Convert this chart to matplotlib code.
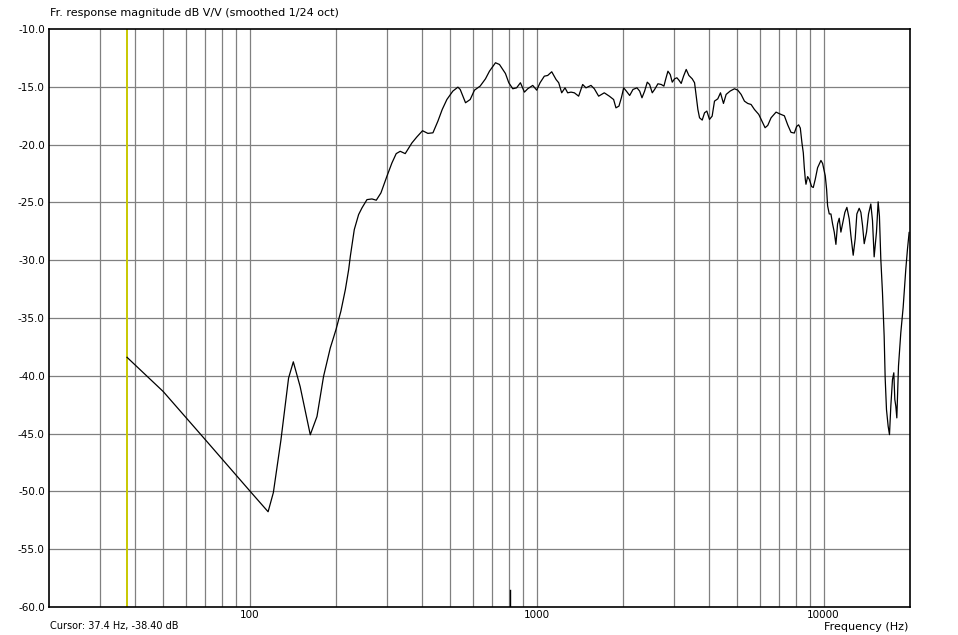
import numpy as np
import matplotlib
matplotlib.use('Agg')
import matplotlib.pyplot as plt
from matplotlib.ticker import FixedLocator, NullFormatter, NullLocator

# risposta in frequenza (Hz, dB V/V)
freq_hz = [37.4, 50.0, 70.1, 100.5, 116, 121, 128.5, 136.7, 142, 150, 162.7, 171.7, 181, 191,
           200, 208, 215.6, 221.4, 224.4, 231.6, 239.8, 246.3, 256.4, 266.8, 276.3, 286.8,
           300.9, 313.2, 324.2, 334.8, 348.5, 367.6, 382.5, 400.4, 418, 435.3, 453, 469,
           486.8, 510.8, 531.8, 541.8, 565.4, 586.9, 607.5, 635.7, 663.5, 685.1, 719, 742.4,
           778.8, 800, 826, 851.6, 878.3, 907, 931.2, 969.4, 1001, 1028, 1064, 1093, 1129,
           1169, 1194, 1223, 1256, 1283, 1318, 1354, 1401, 1447, 1486, 1547, 1589, 1645,
           1721, 1792, 1855, 1890, 1936, 1974, 2011, 2054, 2110, 2167, 2237, 2286, 2329,
           2379, 2430, 2476, 2529, 2577, 2647, 2719, 2777, 2815, 2868, 2922, 2969, 3025,
           3082, 3131, 3190, 3251, 3321, 3393, 3485, 3551, 3598, 3647, 3696, 3776, 3847,
           3919, 4003, 4089, 4167, 4279, 4372, 4478, 4575, 4724, 4891, 5023, 5159, 5299,
           5442, 5589, 5741, 5944, 6137, 6253, 6388, 6561, 6829, 7015, 7300, 7497, 7699,
           7906, 8055, 8185, 8295, 8406, 8497, 8565, 8634, 8681, 8797, 8915, 9084, 9204,
           9352, 9529, 9788, 9920, 10134, 10243, 10325, 10464, 10605, 10747, 10892, 11038,
           11186, 11335, 11488, 11642, 11861, 12054, 12281, 12446, 12680, 12884, 13057,
           13304, 13486, 13667, 13852, 14112, 14339, 14605, 14802, 15001, 15283, 15489,
           15650, 15824, 16037, 16255, 16386, 16561, 16784, 16965, 17147, 17378, 17564,
           17706, 17850, 17994, 18236, 18578, 18929, 19338, 19598, 19861]
level_db = [-38.40, -41.36, -45.53, -50.0, -51.76, -50.1, -45.6, -40.2, -38.79, -40.93, -45.1,
            -43.52, -40.05, -37.6, -36.0, -34.41, -32.54, -30.81, -29.65, -27.35, -26.05,
            -25.48, -24.76, -24.70, -24.81, -24.18, -22.74, -21.59, -20.78, -20.58, -20.78,
            -19.86, -19.34, -18.8, -19.03, -18.98, -17.97, -16.96, -16.10, -15.37, -15.03,
            -15.23, -16.38, -16.10, -15.29, -14.94, -14.31, -13.65, -12.92, -13.07, -13.85,
            -14.65, -15.17, -15.09, -14.65, -15.46, -15.17, -14.88, -15.29, -14.65, -14.08,
            -14.02, -13.70, -14.37, -14.65, -15.52, -15.09, -15.52, -15.46, -15.52, -15.81,
            -14.80, -15.09, -14.88, -15.17, -15.81, -15.52, -15.81, -16.10, -16.82, -16.67,
            -15.95, -15.09, -15.37, -15.75, -15.23, -15.09, -15.37, -15.95, -15.37, -14.60,
            -14.80, -15.52, -15.23, -14.74, -14.80, -14.94, -14.37, -13.65, -13.94, -14.60,
            -14.31, -14.22, -14.42, -14.71, -14.08, -13.50, -14.02, -14.31, -14.65, -15.81,
            -16.96, -17.68, -17.88, -17.25, -17.10, -17.82, -17.54, -16.24, -16.04, -15.52,
            -16.44, -15.66, -15.37, -15.17, -15.29, -15.66, -16.24, -16.44, -16.53, -16.96,
            -17.39, -18.11, -18.54, -18.34, -17.68, -17.19, -17.33, -17.51, -18.29, -18.94,
            -19.0, -18.43, -18.29, -18.57, -19.86, -20.71, -22.0, -23.0, -23.43, -22.77,
            -23.0, -23.63, -23.71, -23.0, -22.0, -21.37, -21.63, -22.71, -23.86, -25.29,
            -26.0, -26.0, -26.86, -27.57, -28.63, -26.86, -26.37, -27.57, -26.86, -25.86,
            -25.43, -26.43, -27.86, -29.57, -28.14, -26.0, -25.51, -25.86, -27.0, -28.57,
            -27.57, -26.0, -25.14, -26.57, -29.71, -27.57, -24.95, -26.2, -29.9, -32.80,
            -36.56, -40.17, -42.92, -44.36, -45.09, -42.63, -40.32, -39.74, -42.05, -42.63,
            -43.64, -39.16, -36.27, -34.10, -30.78, -29.05, -27.60]

cursor_hz = 37.4
cursor_db = -38.40
marker_hz = 807

y_ticks = [-10, -15, -20, -25, -30, -35, -40, -45, -50, -55, -60]
x_labels = [100, 1000, 10000]
x_grid = [30, 40, 50, 60, 70, 80, 90, 100, 200, 300, 400, 500, 600, 700, 800, 900,
          1000, 2000, 3000, 4000, 5000, 6000, 7000, 8000, 9000, 10000]

plt.rcParams['font.family'] = ['DejaVu Sans']
fig = plt.figure(figsize=(9.58, 6.35), dpi=100)
ax = fig.add_axes([49/958, 28/635, 861/958, 578/635])

ax.set_xscale('log')
ax.set_xlim(20, 20000)
ax.set_ylim(-60, -10)

# griglia grigia
for f in x_grid:
    ax.axvline(f, color='#808080', lw=0.9, zorder=1)
for v in y_ticks[1:-1]:
    ax.axhline(v, color='#808080', lw=0.9, zorder=1)

ax.axvline(cursor_hz, color='#c8c800', lw=1.4, zorder=2)
ax.axvline(marker_hz, ymin=0, ymax=0.03, color='black', lw=1.0, zorder=2)

ax.plot(freq_hz, level_db, color='black', lw=0.9, zorder=3)

ax.xaxis.set_major_locator(FixedLocator(x_labels))
ax.xaxis.set_minor_locator(NullLocator())
ax.xaxis.set_minor_formatter(NullFormatter())
ax.set_xticklabels([str(v) for v in x_labels])
ax.set_yticks(y_ticks)
ax.set_yticklabels(['%.1f' % v for v in y_ticks])
ax.tick_params(axis='y', length=0, labelsize=7.5, pad=3)
ax.tick_params(axis='x', length=0, labelsize=7.5, pad=2)

for s in ax.spines.values():
    s.set_linewidth(1.2)

fig.text(50/958, 1 - 13/635, 'Fr. response magnitude dB V/V (smoothed 1/24 oct)',
         fontsize=8, va='center', ha='left')
fig.text(50/958, 1 - 626/635, 'Cursor: %.1f Hz, %.2f dB' % (cursor_hz, cursor_db),
         fontsize=7, va='center', ha='left')
fig.text(908/958, 1 - 627/635, 'Frequency (Hz)', fontsize=8, va='center', ha='right')

fig.savefig('out.png', dpi=100)
